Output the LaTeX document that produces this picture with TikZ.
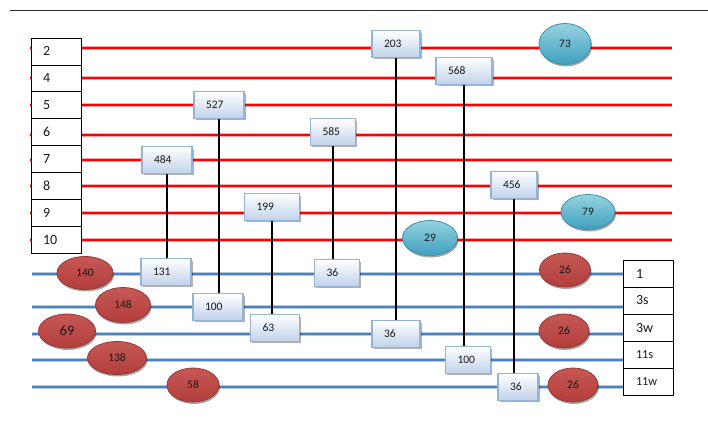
\documentclass[tikz,border=0pt]{standalone}
\usepackage{fontspec}
\setmainfont{Carlito}
\usetikzlibrary{shadows,shapes.geometric}

\definecolor{wireRed}{RGB}{255,0,0}
\definecolor{wireRedGlow}{RGB}{255,170,170}
\definecolor{wireBlue}{RGB}{79,129,189}
\definecolor{wireBlueGlow}{RGB}{175,200,230}
\definecolor{gateEdge}{RGB}{149,179,215}
\definecolor{gateFill}{RGB}{192,210,234}
\definecolor{tealTop}{RGB}{150,210,225}
\definecolor{tealBot}{RGB}{62,160,190}
\definecolor{tealEdge}{RGB}{60,145,172}
\definecolor{redTop}{RGB}{198,88,85}
\definecolor{redMid}{RGB}{212,122,120}
\definecolor{redBot}{RGB}{178,62,60}
\definecolor{redEdge}{RGB}{150,55,52}
\definecolor{ink}{RGB}{25,25,25}
\definecolor{rule}{RGB}{45,45,45}

\pgfdeclarelayer{wires}
\pgfsetlayers{wires,main}

\begin{document}
\begin{tikzpicture}[x=1pt,y=-1pt,
  redline/.style={draw=wireRed,line width=2pt,
    preaction={draw=wireRedGlow,line width=3.2pt}},
  blueline/.style={draw=wireBlue,line width=2pt,
    preaction={draw=wireBlueGlow,line width=3.4pt}},
  link/.style={draw=black,line width=1.8pt},
  cell/.style={draw=black,line width=0.8pt,fill=white,rectangle,
    minimum height=26.9pt,inner ysep=0pt,align=left,text=ink},
  lcell/.style={cell,inner xsep=12pt,text width=26pt,font=\fontsize{14}{14}\selectfont},
  rcell/.style={cell,inner xsep=13pt,text width=24pt,minimum height=27pt},
  gate/.style={rectangle,draw=gateEdge,line width=1.2pt,top color=white,
    bottom color=gateFill,minimum height=26.5pt,inner xsep=12pt,inner ysep=0pt,
    align=left,text width=#1,text=ink,font=\fontsize{11.5}{12}\selectfont,
    drop shadow={shadow xshift=1.5pt,shadow yshift=-2pt,fill=black,opacity=0.3}},
  dot/.style={ellipse,inner sep=0pt,line width=0.8pt,text=ink,
    font=\fontsize{11.5}{12}\selectfont,
    drop shadow={shadow xshift=1pt,shadow yshift=-2pt,fill=black,opacity=0.35}},
  tealdot/.style={dot,draw=tealEdge,top color=tealTop,bottom color=tealBot},
  reddot/.style={dot,draw=redEdge,top color=redTop,middle color=redMid,bottom color=redBot}]

\useasboundingbox (0,0) rectangle (708,428);

% rule across the top
\coordinate (ruleW) at (10,10);
\coordinate (ruleE) at (708,10);
\draw[draw=rule,line width=0.8pt] (ruleW) -- (ruleE);

% end points of the red and blue wires
\foreach \n/\y in {2/48,4/78,5/105,6/135,7/160,8/186,9/213,10/240}{
  \coordinate (rw\n) at (30,\y);
  \coordinate (re\n) at (672,\y);
}
\foreach \n/\y in {1/274,3s/307,3w/334,11s/360,11w/387}{
  \coordinate (bw\n) at (32,\y);
  \coordinate (be\n) at (673,\y);
}

% left label column
\foreach \t [count=\k from 0] in {2,4,5,6,7,8,9,10}{
  \node[lcell] (L\t) at (56,{38+26.9*(\k+0.5)}) {\t};
}
% right label column
\node[rcell,font=\fontsize{14}{14}\selectfont] (R1)  at (648,273.5) {1};
\node[rcell,font=\fontsize{14}{14}\selectfont] (R3s) at (648,300.5) {3s};
\node[rcell,font=\fontsize{14}{14}\selectfont] (R3w) at (648,327.5) {3w};
\node[rcell,font=\fontsize{12.3}{13}\selectfont] (R11s) at (648,354.5) {11s};
\node[rcell,font=\fontsize{12.3}{13}\selectfont] (R11w) at (648,381.5) {11w};

% gates
\node[gate=26pt] (g484)  at (167,160) {484};
\node[gate=26pt] (g527)  at (219,105) {527};
\node[gate=24pt] (g203)  at (396,44)  {203};
\node[gate=32pt] (g568)  at (464,71)  {568};
\node[gate=21pt] (g585)  at (333,132) {585};
\node[gate=31pt] (g199)  at (272,207) {199};
\node[gate=22pt] (g456)  at (514,185) {456};
\node[gate=26pt] (g131)  at (166,272) {131};
\node[gate=26pt] (g100a) at (218,307) {100};
\node[gate=21pt] (g36a)  at (337,273) {36};
\node[gate=25pt] (g63)   at (275,328) {63};
\node[gate=24pt] (g36b)  at (396,334) {36};
\node[gate=21pt] (g100b) at (468,360) {100};
\node[gate=16pt] (g36c)  at (518,387) {36};

% teal markers on the red wires
\node[tealdot,minimum width=52pt,minimum height=41pt] (t73) at (565,44)  {73};
\node[tealdot,minimum width=54pt,minimum height=35pt] (t79) at (588,212) {79};
\node[tealdot,minimum width=55pt,minimum height=35pt] (t29) at (430,238) {29};

% red markers on the blue wires
\node[reddot,minimum width=56pt,minimum height=33pt] (m140) at (85,273)  {140};
\node[reddot,minimum width=55pt,minimum height=35pt] (m148) at (123,305) {148};
\node[reddot,minimum width=57pt,minimum height=34pt,font=\fontsize{14.5}{15}\selectfont] (m69) at (67,331) {69};
\node[reddot,minimum width=59pt,minimum height=33pt] (m138) at (117,358) {138};
\node[reddot,minimum width=52pt,minimum height=34pt] (m58)  at (193,385) {58};
\node[reddot,minimum width=51pt,minimum height=34pt] (m26a) at (565,270) {26};
\node[reddot,minimum width=50pt,minimum height=34pt] (m26b) at (564,331) {26};
\node[reddot,minimum width=50pt,minimum height=34pt] (m26c) at (573,385) {26};

\begin{pgfonlayer}{wires}
  \foreach \n in {2,4,5,6,7,8,9,10}{\draw[redline] (rw\n) -- (re\n);}
  \foreach \n in {1,3s,3w,11s,11w}{\draw[blueline] (bw\n) -- (be\n);}
  \draw[link] (g484) -- (g484 |- g131);
  \draw[link] (g527) -- (g527 |- g100a);
  \draw[link] (g199) -- (g199 |- g63);
  \draw[link] (g585) -- (g585 |- g36a);
  \draw[link] (g203) -- (g203 |- g36b);
  \draw[link] (g568) -- (g568 |- g100b);
  \draw[link] (g456) -- (g456 |- g36c);
\end{pgfonlayer}
\end{tikzpicture}
\end{document}
